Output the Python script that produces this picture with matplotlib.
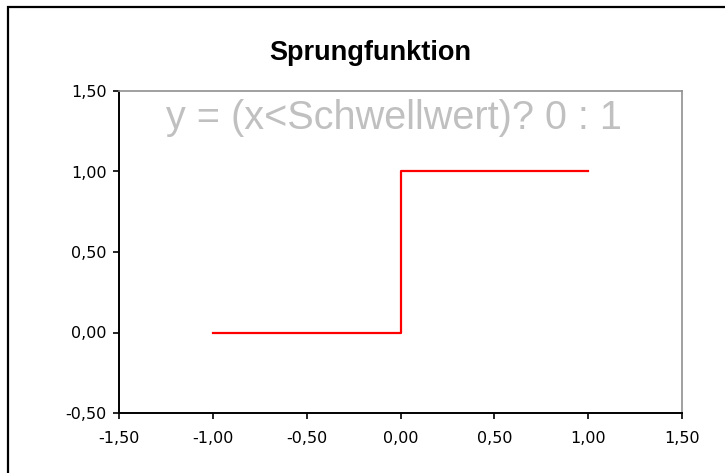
import matplotlib
matplotlib.use("Agg")
import matplotlib.pyplot as plt
from matplotlib.patches import Rectangle
from matplotlib.ticker import FuncFormatter

# Sprungfunktion: y = 0 fuer x < 0, sonst 1
x_werte = [-1.0, 0.0, 1.0]
y_werte = [0.0, 1.0, 1.0]
x_ticks = [-1.5, -1.0, -0.5, 0.0, 0.5, 1.0, 1.5]
y_ticks = [-0.5, 0.0, 0.5, 1.0, 1.5]
titel = "Sprungfunktion"
formel = "y = (x<Schwellwert)? 0 : 1"

fig = plt.figure(figsize=(7.25, 4.73), dpi=100)
fig.patch.set_facecolor("white")

# Rahmen um das Diagramm (rechts/unten abgeschnitten)
fig.patches.append(Rectangle((8 / 725, -0.1), 1.2, 0.1 + 1 - 7 / 473,
                             transform=fig.transFigure, fill=False,
                             edgecolor="black", linewidth=1.6))

ax = fig.add_axes([119 / 725, 1 - 413 / 473, (682 - 119) / 725, (413 - 91) / 473])
ax.plot(x_werte, y_werte, drawstyle="steps-post", color="#ff0000", linewidth=1.6)

ax.set_xlim(-1.5, 1.5)
ax.set_ylim(-0.5, 1.5)
ax.set_xticks(x_ticks)
ax.set_yticks(y_ticks)
komma = FuncFormatter(lambda v, p: ("%.2f" % v).replace(".", ","))
ax.xaxis.set_major_formatter(komma)
ax.yaxis.set_major_formatter(komma)
ax.tick_params(direction="out", length=4, width=1.2, color="black",
               labelsize=11.5, pad=5)
ax.tick_params(axis="x", pad=9)
for lbl in ax.get_xticklabels() + ax.get_yticklabels():
    lbl.set_family("DejaVu Sans")

for s in ["left", "bottom"]:
    ax.spines[s].set_color("black")
    ax.spines[s].set_linewidth(1.4)
for s in ["top", "right"]:
    ax.spines[s].set_color("#909090")
    ax.spines[s].set_linewidth(1.2)

fig.text(370 / 725, 1 - 53 / 473, titel, ha="center", va="center",
         fontsize=19.5, fontweight="bold", family="Liberation Sans")
fig.text(394 / 725, 1 - 118 / 473, formel, ha="center", va="center",
         fontsize=28.5, color="#c0c0c0", family="Liberation Sans")

fig.savefig("out.png", dpi=100)
